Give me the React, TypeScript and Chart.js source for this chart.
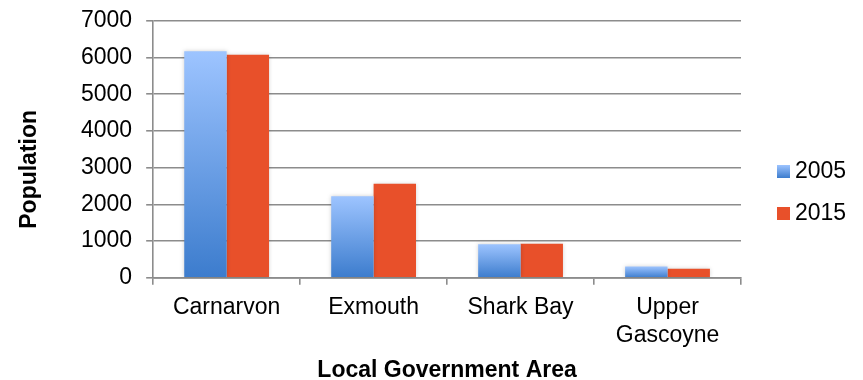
import React, { useEffect, useRef } from "react";
import { Chart, registerables } from "chart.js";

Chart.register(...registerables);

const categories: string[][] = [["Carnarvon"], ["Exmouth"], ["Shark Bay"], ["Upper", "Gascoyne"]];
const seriesNames = ["2005", "2015"];
const values2005 = [6170, 2220, 915, 310];
const values2015 = [6080, 2560, 930, 245];
const yMin = 0;
const yMax = 7000;
const yStep = 1000;
const xTitle = "Local Government Area";
const yTitle = "Population";

const FONT = '"Liberation Sans", Arial, Helvetica, sans-serif';
const GRID = "#8c8c8c";
const BLUE_TOP = "#9dc4ff";
const BLUE_BOTTOM = "#3c7ccd";
const RED = "#e8502a";

function blueGradient(ctx: any) {
  const chart = ctx.chart;
  const y = chart.scales && chart.scales.y;
  if (!y || ctx.type !== "data") return "#6e9fe8";
  const v = ctx.parsed ? ctx.parsed.y : ctx.raw;
  const top = y.getPixelForValue(v);
  const bottom = y.getPixelForValue(0);
  if (!isFinite(top) || !isFinite(bottom) || Math.abs(bottom - top) < 1) return "#6e9fe8";
  const g = chart.ctx.createLinearGradient(0, top, 0, bottom);
  g.addColorStop(0, BLUE_TOP);
  g.addColorStop(1, BLUE_BOTTOM);
  return g;
}

const shadowPlugin = {
  id: "barShadow",
  beforeDatasetsDraw(chart: any) {
    const ctx = chart.ctx;
    ctx.save();
    ctx.shadowColor = "rgba(0,0,0,0.18)";
    ctx.shadowBlur = 4;
    ctx.shadowOffsetX = 0;
    ctx.shadowOffsetY = 0;
  },
  afterDatasetsDraw(chart: any) {
    chart.ctx.restore();
  },
};

const extrasPlugin = {
  id: "extras",
  afterDraw(chart: any) {
    const { ctx, chartArea } = chart;
    ctx.save();
    // y-axis title
    ctx.translate(30, (chartArea.top + chartArea.bottom) / 2 + 20);
    ctx.rotate(-Math.PI / 2);
    ctx.font = `bold 23px ${FONT}`;
    ctx.fillStyle = "#000";
    ctx.textAlign = "center";
    ctx.textBaseline = "middle";
    ctx.fillText(yTitle, 0, 0);
    ctx.restore();

    // legend
    ctx.save();
    const lx = chartArea.right + 36;
    const centerY = chart.height / 2 + 2;
    const spacing = 42;
    const n = chart.data.datasets.length;
    chart.data.datasets.forEach((ds: any, i: number) => {
      const cy = centerY + (i - (n - 1) / 2) * spacing;
      const bx = lx;
      const by = cy - 6;
      if (i === 0) {
        const g = ctx.createLinearGradient(0, by, 0, by + 13);
        g.addColorStop(0, BLUE_TOP);
        g.addColorStop(1, BLUE_BOTTOM);
        ctx.fillStyle = g;
      } else {
        ctx.fillStyle = RED;
      }
      ctx.fillRect(bx, by, 13, 13);
      ctx.font = `23px ${FONT}`;
      ctx.fillStyle = "#000";
      ctx.textAlign = "left";
      ctx.textBaseline = "middle";
      ctx.fillText(ds.label, bx + 18, cy + 1);
    });
    ctx.restore();
  },
};

export default function App() {
  const canvasRef = useRef<HTMLCanvasElement | null>(null);

  useEffect(() => {
    if (!canvasRef.current) return;
    const chart = new Chart(canvasRef.current, {
      type: "bar",
      data: {
        labels: categories as any,
        datasets: [
          {
            label: seriesNames[0],
            data: values2005,
            backgroundColor: blueGradient as any,
            borderWidth: 0,
            categoryPercentage: 0.577,
            barPercentage: 1,
          },
          {
            label: seriesNames[1],
            data: values2015,
            backgroundColor: RED,
            borderWidth: 0,
            categoryPercentage: 0.577,
            barPercentage: 1,
          },
        ],
      },
      options: {
        animation: false,
        responsive: true,
        maintainAspectRatio: false,
        layout: { padding: { left: 67, right: 122, top: 0, bottom: 0 } },
        plugins: {
          legend: { display: false },
          tooltip: { enabled: false },
        },
        scales: {
          x: {
            grid: {
              display: true,
              drawOnChartArea: false,
              drawTicks: true,
              tickLength: 7,
              color: GRID,
              lineWidth: 1.6,
            },
            border: { display: true, color: GRID, width: 1.8 },
            ticks: {
              font: { family: FONT, size: 23 },
              color: "#000",
              padding: 9,
              maxRotation: 0,
              autoSkip: false,
            },
            title: {
              display: true,
              text: xTitle,
              font: { family: FONT, size: 23, weight: "bold", lineHeight: 1 },
              color: "#000",
              padding: { top: 1, bottom: -2 },
            },
          },
          y: {
            min: yMin,
            max: yMax,
            grid: {
              color: GRID,
              lineWidth: 1.6,
              tickLength: 7,
              drawTicks: true,
            },
            border: { display: true, color: GRID, width: 1.6 },
            ticks: {
              stepSize: yStep,
              font: { family: FONT, size: 23, lineHeight: 0.6 },
              color: "#000",
              padding: 14,
              callback: (v: any) => String(v),
            },
          },
        },
      },
      plugins: [shadowPlugin, extrasPlugin],
    });
    return () => chart.destroy();
  }, []);

  return (
    <div style={{ position: "fixed", left: 0, top: 0, width: 863, height: 380, background: "#fff" }}>
      <canvas ref={canvasRef} />
    </div>
  );
}
